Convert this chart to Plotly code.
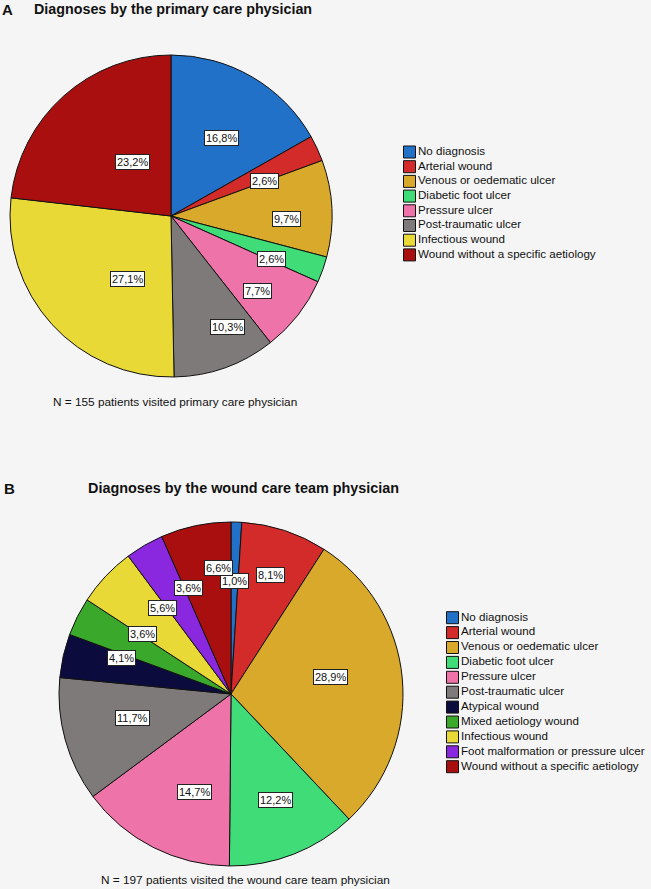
import math
import plotly.graph_objects as go

W, H = 651, 889
FONT = "Liberation Sans, Arial, sans-serif"
BG = "#f5f5f5"

# ---------------- data ----------------
labels_a = ["No diagnosis", "Arterial wound", "Venous or oedematic ulcer",
            "Diabetic foot ulcer", "Pressure ulcer", "Post-traumatic ulcer",
            "Infectious wound", "Wound without a specific aetiology"]
values_a = [16.8, 2.6, 9.7, 2.6, 7.7, 10.3, 27.1, 23.2]

labels_b = ["No diagnosis", "Arterial wound", "Venous or oedematic ulcer",
            "Diabetic foot ulcer", "Pressure ulcer", "Post-traumatic ulcer",
            "Atypical wound", "Mixed aetiology wound", "Infectious wound",
            "Foot malformation or pressure ulcer",
            "Wound without a specific aetiology"]
values_b = [1.0, 8.1, 28.9, 12.2, 14.7, 11.7, 4.1, 3.6, 5.6, 3.6, 6.6]

title_a = "Diagnoses by the primary care physician"
title_b = "Diagnoses by the wound care team physician"
caption_a = "N = 155 patients visited primary care physician"
caption_b = "N = 197 patients visited the wound care team physician"

# ---------------- styles / layout ----------------
colour_map = {
    "No diagnosis": "#2171c9",
    "Arterial wound": "#d32a2a",
    "Venous or oedematic ulcer": "#d8a92a",
    "Diabetic foot ulcer": "#40dc78",
    "Pressure ulcer": "#ee73a9",
    "Post-traumatic ulcer": "#7f7a7a",
    "Atypical wound": "#0b0b3d",
    "Mixed aetiology wound": "#3aa82b",
    "Infectious wound": "#e8d936",
    "Foot malformation or pressure ulcer": "#8a28e0",
    "Wound without a specific aetiology": "#a90f0f",
}

# pie geometry in pixels (centre x, centre y, radius)
pie_a = (171, 216, 161)
pie_b = (231, 694, 172)

# radial position of each percentage box, as a fraction of the radius
label_radius_a = [0.62, 0.64, 0.72, 0.66, 0.68, 0.73, 0.51, 0.52]
label_radius_b = [0.66, 0.73, 0.58, 0.71, 0.69, 0.70, 0.74, 0.67, 0.66, 0.66, 0.75]


def domain(c):
    cx, cy, r = c
    return dict(x=[(cx - r) / W, (cx + r) / W],
                y=[1 - (cy + r) / H, 1 - (cy - r) / H])


def pct_text(v):
    return f"{v:.1f}%".replace(".", ",")


fig = go.Figure()

for labels, values, geom in ((labels_a, values_a, pie_a),
                             (labels_b, values_b, pie_b)):
    fig.add_trace(go.Pie(
        labels=labels, values=values, sort=False, direction="clockwise",
        rotation=0, textinfo="none", showlegend=False,
        marker=dict(colors=[colour_map[l] for l in labels],
                    line=dict(color="#111111", width=1)),
        domain=domain(geom),
    ))

annotations = []


def label_boxes(values, geom, fracs):
    cx, cy, r = geom
    total = sum(values)
    cum = 0.0
    for v, f in zip(values, fracs):
        mid = (cum + v / 2) / total * 2 * math.pi
        cum += v
        px = cx + f * r * math.sin(mid)
        py = cy - f * r * math.cos(mid)
        annotations.append(dict(
            x=px / W, y=1 - py / H, xref="paper", yref="paper",
            text=pct_text(v), showarrow=False,
            font=dict(family=FONT, size=11, color="#111111"),
            bgcolor="white", bordercolor="#222222", borderwidth=1, borderpad=1,
        ))


label_boxes(values_a, pie_a, label_radius_a)
label_boxes(values_b, pie_b, label_radius_b)


# custom legends drawn as scatter traces on hidden axes
def legend_trace(labels, axis_id):
    return go.Scatter(
        x=[0] * len(labels), y=list(range(len(labels))),
        mode="markers+text", text=labels, textposition="middle right",
        textfont=dict(family=FONT, size=11.6, color="#111111"),
        marker=dict(symbol="square", size=12,
                    color=[colour_map[l] for l in labels],
                    line=dict(color="#111111", width=1)),
        xaxis="x" + axis_id, yaxis="y" + axis_id,
        showlegend=False, hoverinfo="skip", cliponaxis=False,
    )


fig.add_trace(legend_trace(labels_a, "2"))
fig.add_trace(legend_trace(labels_b, "3"))

hidden = dict(showgrid=False, zeroline=False, showticklabels=False,
              showline=False, fixedrange=True)

la_x0, la_top, la_step = 409.5, 152 - 7.35, 14.7
lb_x0, lb_top, lb_step = 452.5, 617.7 - 7.45, 14.9
n_a, n_b = len(labels_a), len(labels_b)

fig.update_layout(
    xaxis2=dict(domain=[(la_x0 - 9.5) / W, (la_x0 + 230.5) / W],
                range=[-9.5, 230.5], anchor="y2", **hidden),
    yaxis2=dict(domain=[1 - (la_top + n_a * la_step) / H, 1 - la_top / H],
                range=[n_a - 0.5, -0.5], anchor="x2", **hidden),
    xaxis3=dict(domain=[(lb_x0 - 9.5) / W, (lb_x0 + 190.5) / W],
                range=[-9.5, 190.5], anchor="y3", **hidden),
    yaxis3=dict(domain=[1 - (lb_top + n_b * lb_step) / H, 1 - lb_top / H],
                range=[n_b - 0.5, -0.5], anchor="x3", **hidden),
)


def txt(text, x, y, size, bold=False, anchor="left"):
    annotations.append(dict(
        x=x / W, y=1 - y / H, xref="paper", yref="paper",
        text=f"<b>{text}</b>" if bold else text, showarrow=False,
        xanchor=anchor, yanchor="middle",
        font=dict(family=FONT, size=size, color="#111111"),
    ))


txt("A", 0, 9, 15, bold=True)
txt(title_a, 32, 9, 14.3, bold=True)
txt(caption_a, 175, 402, 11.8, anchor="center")
txt("B", 2, 488, 15, bold=True)
txt(title_b, 86, 488, 14.4, bold=True)
txt(caption_b, 246, 880, 11.8, anchor="center")

fig.update_layout(
    width=W, height=H, autosize=False,
    margin=dict(l=0, r=0, t=0, b=0),
    paper_bgcolor=BG, plot_bgcolor="rgba(0,0,0,0)",
    showlegend=False,
    annotations=annotations,
)

fig.write_html(
    "out.html",
    config={"displayModeBar": False},
    post_script=("document.body.style.margin='0';"
                 "document.body.style.padding='0';"
                 "document.body.style.overflow='hidden';"
                 f"document.body.style.background='{BG}';"),
)
